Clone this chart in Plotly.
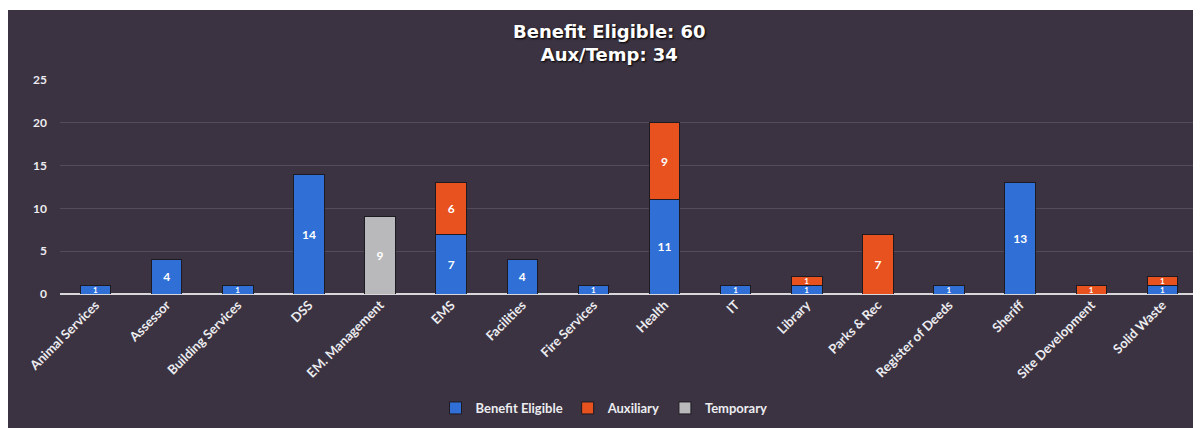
import plotly.graph_objects as go

categories = ["Animal Services", "Assessor", "Building Services", "DSS", "EM. Management",
              "EMS", "Facilities", "Fire Services", "Health", "IT", "Library", "Parks & Rec",
              "Register of Deeds", "Sheriff", "Site Development", "Solid Waste"]
benefit_eligible = [1, 4, 1, 14, 0, 7, 4, 1, 11, 1, 1, 0, 1, 13, 0, 1]
auxiliary = [0, 0, 0, 0, 0, 6, 0, 0, 9, 0, 1, 7, 0, 0, 1, 1]
temporary = [0, 0, 0, 0, 9, 0, 0, 0, 0, 0, 0, 0, 0, 0, 0, 0]
title_lines = ["Benefit Eligible: 60", "Aux/Temp: 34"]

# page has an 8px body margin, so the figure is drawn at (8, 8)
W, H = 1193, 420
ML, MR, MT, MB = 52, 3, 72, 134
pw = W - ML - MR
ph = H - MT - MB

def lbl(vals):
    return [str(v) if v else "" for v in vals]

def lsize(vals):
    return [8 if v == 1 else 12 for v in vals]

series = [
    ("Benefit Eligible", benefit_eligible, "#2f6fd6"),
    ("Auxiliary", auxiliary, "#e8521f"),
    ("Temporary", temporary, "#b9b9bb"),
]

fig = go.Figure()
for name, vals, col in series:
    fig.add_trace(go.Bar(
        name=name, x=categories, y=vals, text=lbl(vals),
        textposition="inside", insidetextanchor="middle", textangle=0,
        constraintext="none",
        textfont=dict(color="white", size=lsize(vals), family="Lato", weight="bold"),
        marker=dict(color=col, line=dict(color="#1e1a22", width=1)),
        cliponaxis=False,
    ))

fig.add_shape(type="rect", xref="paper", yref="paper", layer="below",
              x0=-ML / pw - 0.01, x1=(W - ML) / pw + 0.01,
              y0=-MB / ph - 0.05, y1=(MT + ph - 2) / ph,
              fillcolor="#3b3341", line=dict(width=0))

fig.add_annotation(
    text="<b>" + "<br>".join(title_lines) + "</b>",
    xref="paper", yref="paper", x=(601 - ML) / pw, y=(MT + ph - 34.5) / ph,
    xanchor="center", yanchor="middle", showarrow=False,
    font=dict(size=18, color="white", family="DejaVu Sans", shadow="1px 1px 2px #000"),
)

fig.update_layout(
    width=W, height=H,
    margin=dict(l=ML, r=MR, t=MT, b=MB),
    barmode="stack", bargap=0.57,
    paper_bgcolor="white", plot_bgcolor="rgba(0,0,0,0)",
    font=dict(family="Lato", color="#ececf0"),
    xaxis=dict(tickangle=-45, tickfont=dict(size=13, color="#ececf0", weight="bold"),
               showgrid=False, showline=False, ticks=""),
    yaxis=dict(range=[0, 25], dtick=5,
               tickfont=dict(size=12, color="#ececf0", weight="bold"),
               gridcolor="rgba(255,255,255,0.13)", gridwidth=1,
               zeroline=True, zerolinecolor="#d8d8dc", zerolinewidth=2,
               ticklabelstandoff=12),
    legend=dict(orientation="h", x=(604 - 8 - ML) / pw, xanchor="center",
                y=-(400 - MT - ph) / ph, yanchor="middle", traceorder="normal",
                font=dict(size=13, color="#ececf0", weight="bold"),
                itemwidth=30, bgcolor="rgba(0,0,0,0)"),
)

fig.write_html("out.html")
